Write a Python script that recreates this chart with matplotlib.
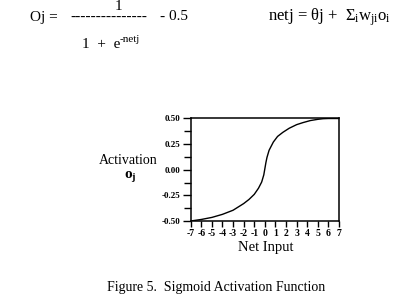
import matplotlib
matplotlib.use("Agg")
import matplotlib.pyplot as plt
from matplotlib.ticker import MultipleLocator, FixedLocator

plt.rcParams['font.family'] = ['Liberation Serif', 'DejaVu Serif']
plt.rcParams['mathtext.fontset'] = 'custom'
plt.rcParams['mathtext.rm'] = 'Liberation Serif'
plt.rcParams['mathtext.it'] = 'Liberation Serif'

# Curve values
net_input = [-7, -6, -5, -4, -3, -2, -1.5, -1, -0.6, -0.3, -0.1, 0.0, 0.1, 0.2, 0.4, 0.8, 1.2, 1.7, 2.3, 3.0, 3.6, 4.3, 5.0, 5.5, 6.0, 6.5, 7.0]
activation = [-0.50, -0.485, -0.465, -0.435, -0.395, -0.33, -0.29, -0.24, -0.18, -0.12, -0.05, 0.01, 0.07, 0.12, 0.19, 0.27, 0.325, 0.365, 0.405, 0.44, 0.46, 0.48, 0.492, 0.498, 0.50, 0.50, 0.50]

x_ticks = [-7, -6, -5, -4, -3, -2, -1, 0, 1, 2, 3, 4, 5, 6, 7]
y_ticks = [-0.50, -0.25, 0.00, 0.25, 0.50]
y_tick_labels = ["-0.50", "-0.25", "0.00", "0.25", "0.50"]

W, H = 406, 303
fig = plt.figure(figsize=(W / 100, H / 100), dpi=100)
fig.patch.set_facecolor('white')

ax = fig.add_axes([190.7 / W, 1 - 221 / H, (339 - 190.7) / W, (221 - 118.5) / H])
ax.plot(net_input, activation, color='black', lw=1.0)
ax.set_xlim(-7, 7)
ax.set_ylim(-0.5, 0.5)

ax.xaxis.set_major_locator(FixedLocator(x_ticks))
ax.set_xticklabels([str(v) for v in x_ticks])
ax.yaxis.set_major_locator(FixedLocator(y_ticks))
ax.set_yticklabels(y_tick_labels)
ax.yaxis.set_minor_locator(MultipleLocator(0.125))

for s in ax.spines.values():
    s.set_linewidth(1.1)
ax.tick_params(axis='x', which='major', direction='out', length=4, width=1.0, pad=1.5,
               labelsize=7)
ax.tick_params(axis='y', which='major', direction='out', length=6, width=1.0, pad=1.5,
               labelsize=6.5)
ax.tick_params(axis='y', which='minor', direction='out', length=5, width=1.0)
for lbl in ax.get_xticklabels() + ax.get_yticklabels():
    lbl.set_fontweight('bold')

def px(x, y):
    return x / W, 1 - y / H

# Axis titles
fig.text(*px(128, 161), "Activation", ha='center', va='center', fontsize=10)
fig.text(*px(130, 176), r"o$_\mathregular{j}$", ha='center', va='center', fontsize=11,
         fontweight='bold')
fig.text(*px(266, 248), "Net Input", ha='center', va='center', fontsize=10.5)

# Caption
fig.text(*px(216, 287), "Figure 5.  Sigmoid Activation Function", ha='center', va='center',
         fontsize=10)

# Formula
fs = 11
fig.text(*px(118, 6), "1", ha='center', va='center', fontsize=fs)
fig.text(*px(30, 17), "Oj =", ha='left', va='center', fontsize=fs)
fig.text(*px(70, 17), "---------------", ha='left', va='center', fontsize=fs)
fig.text(*px(160, 17), "- 0.5", ha='left', va='center', fontsize=fs)
fig.text(*px(82, 45), "1  +  e", ha='left', va='center', fontsize=fs)
fig.text(*px(120, 40), "-netj", ha='left', va='center', fontsize=8)
fig.text(*px(268, 17), r"netj = θj +  $\mathregular{\Sigma_i w_{ji} o_i}$", ha='left',
         va='center', fontsize=12)

fig.savefig("out.png", dpi=100, facecolor='white')
